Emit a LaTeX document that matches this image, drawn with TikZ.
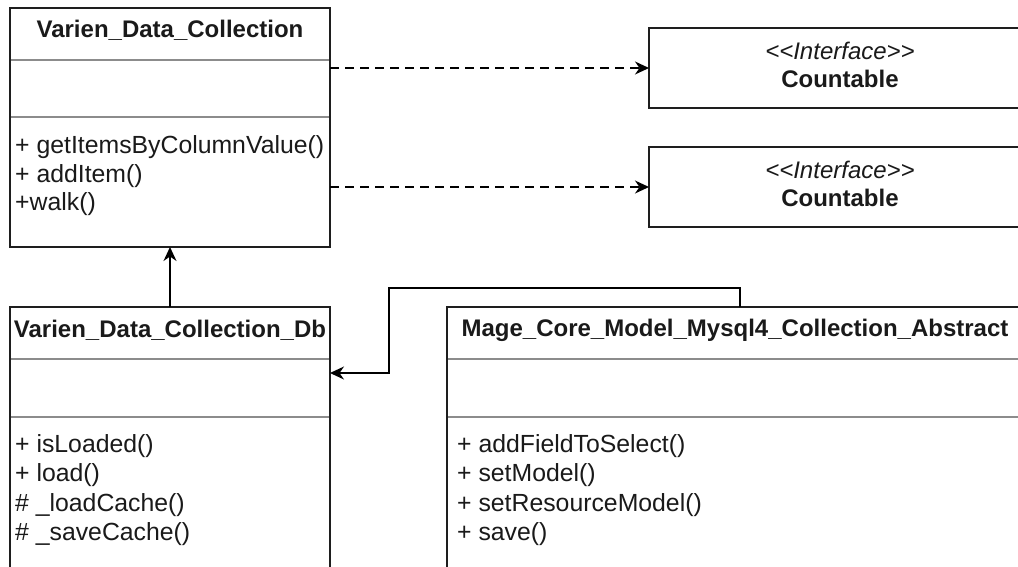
\documentclass[tikz,border=0pt]{standalone}
\usepackage{fontspec}
\setmainfont{Liberation Sans}
\usetikzlibrary{arrows.meta,calc}
\definecolor{boxline}{HTML}{1E1E1E}
\definecolor{divgray}{HTML}{8C8C8C}
\definecolor{ink}{HTML}{1A1A1A}
\begin{document}
\begin{tikzpicture}[x=1pt,y=-1pt,
  classbox/.style={draw=boxline, line width=1.6pt, fill=white, anchor=north west,
                   inner sep=0pt, outer sep=0pt},
  divider/.style={draw=divgray, line width=1.6pt},
  titletext/.style={font=\fontsize{24}{29}\selectfont\bfseries, text=ink, inner sep=0pt},
  member/.style={font=\fontsize{24.8}{29}\selectfont, text=ink, anchor=west, inner sep=0pt},
  stereo/.style={font=\fontsize{24}{29}\selectfont\itshape, text=ink, inner sep=0pt},
  link/.style={draw=black, line width=1.6pt, -{Stealth[length=14pt,width=13pt,inset=4.5pt]}},
  realize/.style={link, dash pattern=on 9pt off 6pt}]
\clip (0,0) rectangle (1018,566);
\fill[white] (0,0) rectangle (1018,566);

% class Varien_Data_Collection
\node[classbox, minimum width=320pt, minimum height=239pt] (vdc) at (10,8) {};
\draw[divider] ($(vdc.north west)+(1,52)$) -- ($(vdc.north east)+(-1,52)$);
\draw[divider] ($(vdc.north west)+(1,109)$) -- ($(vdc.north east)+(-1,109)$);
\node[titletext] (vdcname) at (170,30) {Varien\_Data\_Collection};
\node[member] (vdcm1) at (15,147) {+ getItemsByColumnValue()};
\node[member] (vdcm2) at (15,176) {+ addItem()};
\node[member] (vdcm3) at (15,204) {+walk()};

% interfaces
\node[classbox, minimum width=382pt, minimum height=80pt] (iface1) at (649,28) {};
\node[stereo] (iface1st) at (840,51) {<\kern0pt<Interface>\kern0pt>};
\node[titletext] (iface1name) at (840,79) {Countable};
\node[classbox, minimum width=382pt, minimum height=80pt] (iface2) at (649,147) {};
\node[stereo] (iface2st) at (840,170) {<\kern0pt<Interface>\kern0pt>};
\node[titletext] (iface2name) at (840,198) {Countable};

% class Varien_Data_Collection_Db
\node[classbox, minimum width=320pt, minimum height=320pt] (db) at (10,307) {};
\draw[divider] ($(db.north west)+(1,52)$) -- ($(db.north east)+(-1,52)$);
\draw[divider] ($(db.north west)+(1,110)$) -- ($(db.north east)+(-1,110)$);
\node[titletext] (dbname) at (170,330) {Varien\_Data\_Collection\_Db};
\node[member] (dbm1) at (15,446) {+ isLoaded()};
\node[member] (dbm2) at (15,475) {+ load()};
\node[member] (dbm3) at (15,505) {\# \_loadCache()};
\node[member] (dbm4) at (15,534) {\# \_saveCache()};

% class Mage_Core_Model_Mysql4_Collection_Abstract
\node[classbox, minimum width=576pt, minimum height=320pt] (mage) at (447,307) {};
\draw[divider] ($(mage.north west)+(1,52)$) -- ($(mage.north east)+(-1,52)$);
\draw[divider] ($(mage.north west)+(1,110)$) -- ($(mage.north east)+(-1,110)$);
\node[titletext] (magename) at (735,330) {Mage\_Core\_Model\_Mysql4\_Collection\_Abstract};
\node[member] (magem1) at (457,446) {+ addFieldToSelect()};
\node[member] (magem2) at (457,475) {+ setModel()};
\node[member] (magem3) at (457,505) {+ setResourceModel()};
\node[member] (magem4) at (457,534) {+ save()};

% relations
\draw[realize] (iface1.west -| vdc.east) -- (iface1.west);
\draw[realize] (iface2.west -| vdc.east) -- (iface2.west);
\draw[link] (db.north) -- (vdc.south);
\coordinate (tap) at (740,0);
\coordinate (bendhi) at (389,288);
\coordinate (bendlo) at (389,373);
\draw[link] (mage.north -| tap) |- (bendhi) -- (bendlo) -- (bendlo -| db.east);
\end{tikzpicture}
\end{document}
